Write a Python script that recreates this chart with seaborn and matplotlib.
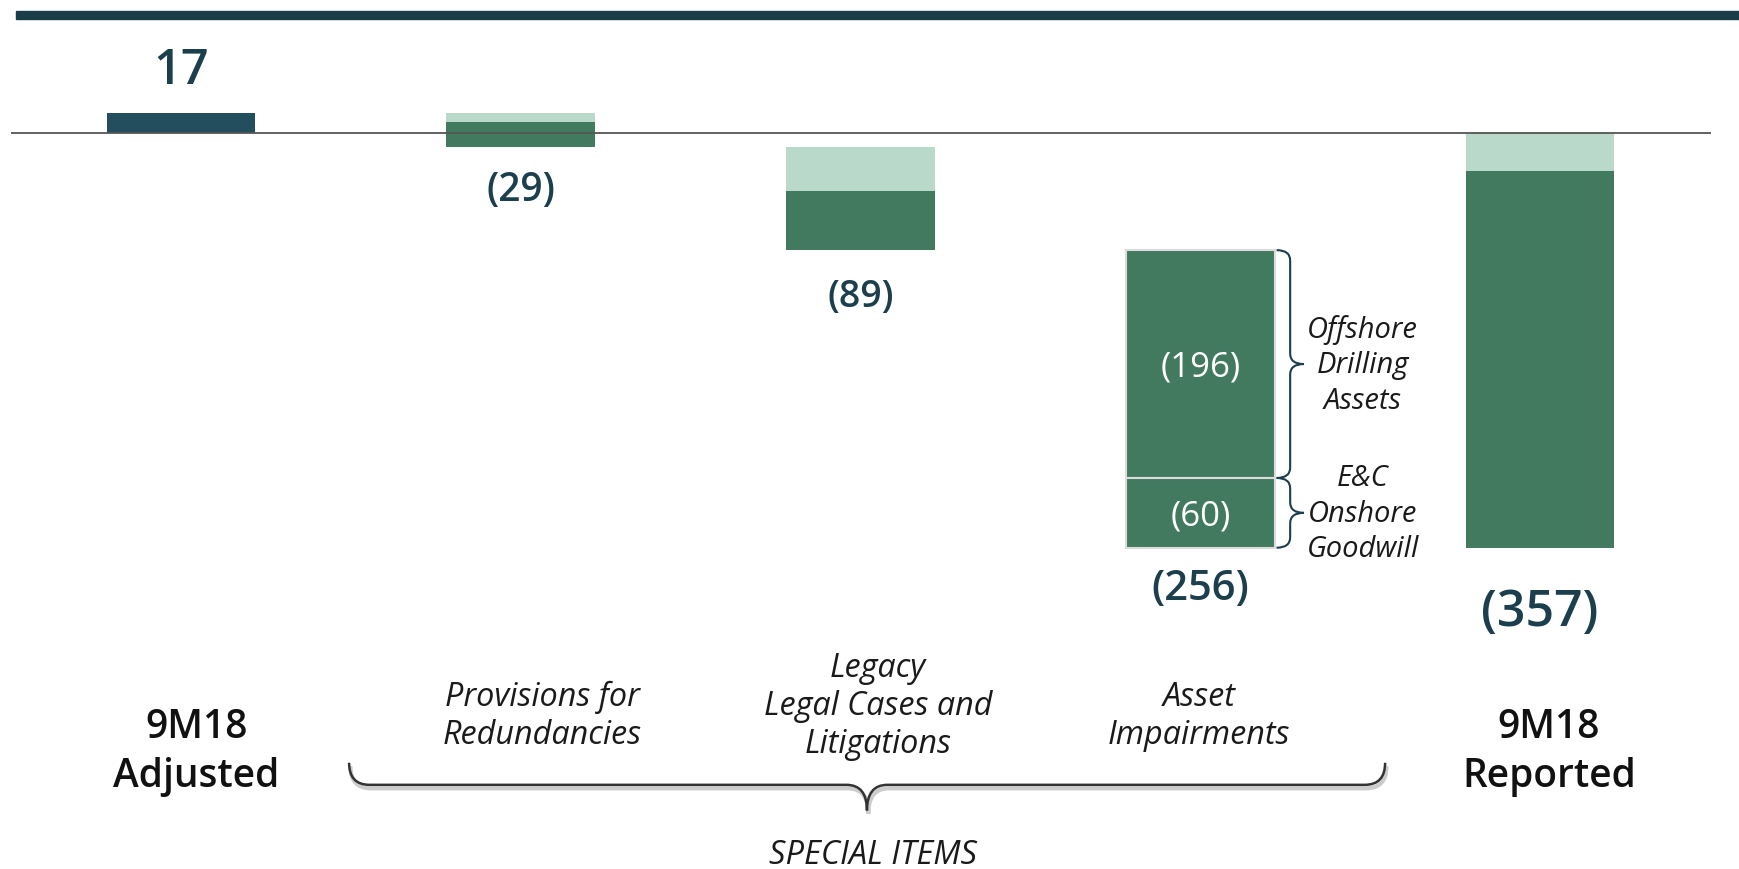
import numpy as np
import pandas as pd
import matplotlib
matplotlib.use("Agg")
import matplotlib.pyplot as plt
from matplotlib.path import Path
from matplotlib.patches import PathPatch, Rectangle
import seaborn as sns

# data (EUR mln)
categories = ["9M18\nAdjusted", "Provisions for\nRedundancies",
              "Legacy\nLegal Cases and\nLitigations", "Asset\nImpairments",
              "9M18\nReported"]
values = [17, -29, -89, -256, -357]
light_part = [0, 8, 38, 0, 33]          # lighter top slice of each bar
impairment_split = [-196, -60]          # Offshore Drilling Assets, E&C Onshore Goodwill
impairment_notes = ["Offshore\nDrilling\nAssets", "E&C\nOnshore\nGoodwill"]
value_labels = ["17", "(29)", "(89)", "(256)", "(357)"]

sns.set_theme(style="white")
plt.rcParams['font.family'] = ['Open Sans', 'DejaVu Sans']

TEAL = "#224e5e"
TXT = "#1c3f4d"
DARK = "#427a5f"
LIGHT = "#b9dacb"

# waterfall tops / bottoms
tops = [0] * 5
bottoms = [0] * 5
running = 0
for i, v in enumerate(values):
    if i == 0 or i == len(values) - 1:
        tops[i], bottoms[i] = max(v, 0), min(v, 0)
        running = v
    else:
        tops[i], bottoms[i] = running, running + v
        running += v

df = pd.DataFrame({"cat": categories, "top": tops, "bottom": bottoms, "light": light_part})

fig = plt.figure(figsize=(17.39, 8.69), dpi=100)
ax = fig.add_axes([11 / 1739, 0, 1700 / 1739, 1])
ax.set_xlim(-0.5, 4.503)
ax.set_ylim(-633.4, 114.2)
ax.axis("off")

w = 0.437
x = np.arange(len(df))

# first bar
ax.bar(x[0], df.top[0] - df.bottom[0], bottom=df.bottom[0], width=w, color=TEAL,
       linewidth=0, zorder=2)
# special items with light tops
for i in [1, 2, 4]:
    t, b, l = df.top[i], df.bottom[i], df.light[i]
    ax.bar(x[i], -l, bottom=t, width=w, color=LIGHT, linewidth=0, zorder=2)
    ax.bar(x[i], (b - (t - l)), bottom=t - l, width=w, color=DARK, linewidth=0, zorder=2)
# impairments split
seg_top = df.top[3]
seg_mids = []
for s in impairment_split:
    ax.bar(x[3], s, bottom=seg_top, width=w, color=DARK, edgecolor="#dcdcdc",
           linewidth=1.5, zorder=2)
    seg_mids.append((seg_top, seg_top + s))
    seg_top += s

ax.axhline(0, color="#555555", linewidth=1.3, zorder=3)

# value labels
ax.annotate(value_labels[0], xy=(x[0], df.top[0]), xytext=(0, 30), textcoords="offset points",
            ha="center", va="center", fontsize=35, fontweight="semibold", color=TXT)
offs = {1: (32, 28), 2: (34, 27), 3: (30, 30), 4: (47, 36)}
for i, (o, fs) in offs.items():
    ax.annotate(value_labels[i], xy=(x[i], df.bottom[i]), xytext=(0, -o), textcoords="offset points",
                ha="center", va="center", fontsize=fs, fontweight="semibold", color=TXT)

# segment labels and side braces
def vbrace(ax, x0, y_top, y_bot, width, r, **kw):
    xm = x0 + width / 2
    ym = (y_top + y_bot) / 2
    verts = [(x0, y_top), (xm, y_top), (xm, y_top - r), (xm, ym + r),
             (xm, ym), (x0 + width, ym), (xm, ym), (xm, ym - r),
             (xm, y_bot + r), (xm, y_bot), (x0, y_bot)]
    codes = [Path.MOVETO, Path.CURVE3, Path.CURVE3, Path.LINETO,
             Path.CURVE3, Path.CURVE3, Path.CURVE3, Path.CURVE3,
             Path.LINETO, Path.CURVE3, Path.CURVE3]
    ax.add_patch(PathPatch(Path(verts, codes), fill=False, **kw))

for (t, b), s, note in zip(seg_mids, impairment_split, impairment_notes):
    ax.text(x[3], (t + b) / 2 - 3, f"({-s})", ha="center", va="center", fontsize=25, color="white")
    vbrace(ax, x[3] + w / 2 + 0.006, t, b, 0.08, 9, edgecolor=TXT, linewidth=1.5, zorder=3)
    ax.text(3.478, (t + b) / 2 - 1, note, ha="center", va="center", fontsize=21,
            style="italic", color="#1a1a1a", linespacing=1.3)

# category labels
cat_pos = [(0.045, -533.5), (1.063, -502), (2.052, -494), (2.997, -502), (4.026, -533.5)]
for i, (cx, cy) in enumerate(cat_pos):
    if i in (0, len(categories) - 1):
        ax.text(cx, cy, categories[i], ha="center", va="center", fontsize=28,
                fontweight="semibold", color="#111111", linespacing=1.3)
    else:
        ax.text(cx, cy, categories[i], ha="center", va="center", fontsize=23.3,
                style="italic", color="#1a1a1a", linespacing=1.2)

# big brace for special items
xl, xr, xmid = 0.495, 3.544, 2.019
yt, yl, ytip = -542, -561, -583
rx, ry = 0.06, 8
verts = [(xl, yt), (xl, yl), (xl + rx, yl), (xmid - rx, yl), (xmid, yl), (xmid, ytip),
         (xmid, yl), (xmid + rx, yl), (xr - rx, yl), (xr, yl), (xr, yt)]
codes = [Path.MOVETO, Path.CURVE3, Path.CURVE3, Path.LINETO, Path.CURVE3, Path.CURVE3,
         Path.CURVE3, Path.CURVE3, Path.LINETO, Path.CURVE3, Path.CURVE3]
ax.add_patch(PathPatch(Path([(a + 0.004, b - 3) for a, b in verts], codes), fill=False,
                       edgecolor="#cccccc", linewidth=3, zorder=2))
ax.add_patch(PathPatch(Path(verts, codes), fill=False, edgecolor="#333333", linewidth=1.8, zorder=3))
ax.text(2.037, -622, "SPECIAL ITEMS", ha="center", va="center", fontsize=23.5,
        style="italic", color="#1a1a1a")

# top band
fig.patches.append(Rectangle((16 / 1739, 1 - 19 / 869), 1, 8 / 869, transform=fig.transFigure,
                             color="#1b3d4a", zorder=5))

fig.savefig("out.png", dpi=100)
